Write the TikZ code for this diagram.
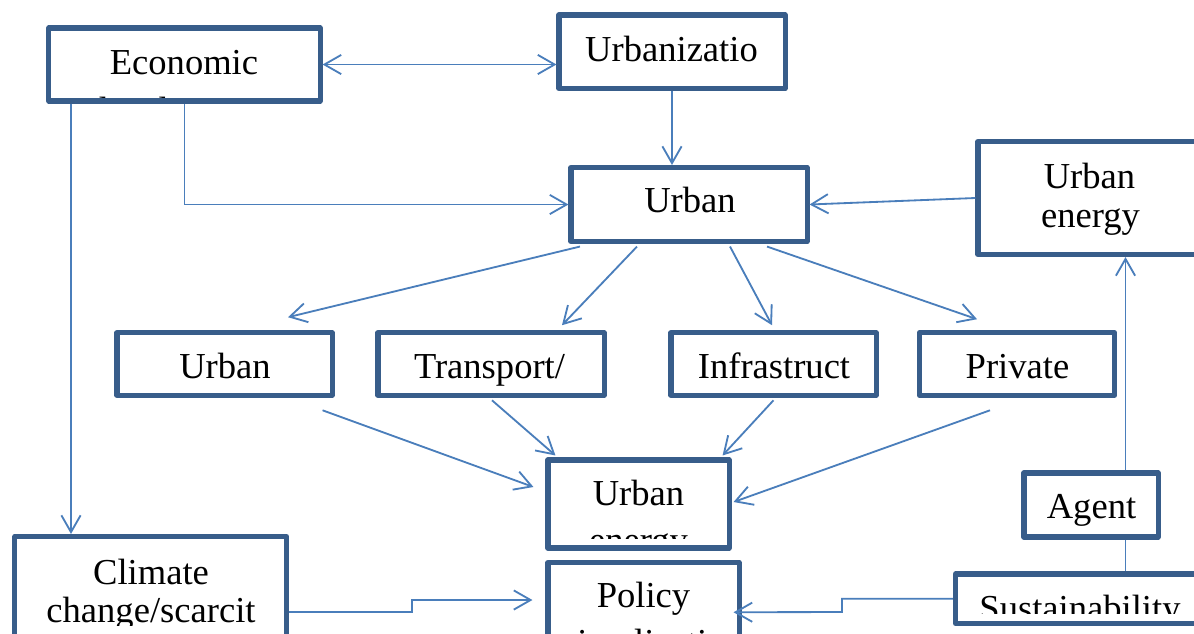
\documentclass[tikz,border=0pt]{standalone}
\usepackage{fontspec}
\setmainfont{Liberation Serif}
\usetikzlibrary{arrows.meta,calc}
\definecolor{boxblue}{RGB}{56,93,138}
\definecolor{lineblue}{RGB}{74,126,187}
\tikzset{
  box/.style={draw=boxblue, line width=3.6pt, line join=round, fill=white, inner sep=0pt},
  link/.style={draw=lineblue, line width=1.3pt},
  txt/.style={anchor=base, inner sep=0pt, font=\fontsize{26}{30}\selectfont},
}

\begin{document}
\begin{tikzpicture}[x=0.025cm, y=-0.025cm, >={Straight Barb[length=0.42cm,width=0.48cm]}]
    \clip (0,0) rectangle (1194,633);
    \fill[white] (0,0) rectangle (1194,633);

    % boxes
    \node[box, minimum width=6.775cm, minimum height=1.825cm]  (econ)   at (184.5,64.5)   {};
    \node[box, minimum width=5.65cm,  minimum height=1.8375cm] (urbz)   at (672,51.75)    {};
    \node[box, minimum width=5.9cm,   minimum height=1.85cm]   (urb)    at (689,204.5)    {};
    \node[box, minimum width=5.6cm,   minimum height=2.825cm]  (uen)    at (1090,198)     {};
    \node[box, minimum width=5.375cm, minimum height=1.5625cm] (uplan)  at (224.5,364)    {};
    \node[box, minimum width=5.65cm,  minimum height=1.5625cm] (transp) at (491,364)      {};
    \node[box, minimum width=5.125cm, minimum height=1.5625cm] (infra)  at (773.5,364)    {};
    \node[box, minimum width=4.8625cm,minimum height=1.5625cm] (priv)   at (1017,364)     {};
    \node[box, minimum width=4.525cm, minimum height=2.2cm]    (ue)     at (638.5,504)    {};
    \node[box, minimum width=4.775cm, minimum height=2.4375cm] (policy) at (643.5,611.25) {};
    \node[box, minimum width=6.7875cm,minimum height=3.0875cm] (clim)   at (150.75,598.25){};
    \node[box, minimum width=3.35cm,  minimum height=1.6cm]    (agent)  at (1091,505)     {};
    \node[box, minimum width=6.225cm, minimum height=1.2375cm] (sust)   at (1080,598.75)  {};

    % texts
    \node[txt] (econ-t) at (184,74) {Economic};
    \begin{scope}
      \clip (52,31) rectangle (317,97);
      \node[txt] (econ-t2) at (184,122) {development};
    \end{scope}
    \node[txt] (urbz-t)   at (671.5,61)  {Urbanizatio};
    \node[txt] (urb-t)    at (690,212)   {Urban};
    \node[txt] (uen-t)    at (1089.5,188) {Urban};
    \node[txt] (uen-t2)   at (1090.5,227) {energy};
    \node[txt] (uplan-t)  at (225,378)   {Urban};
    \node[txt] (transp-t) at (489.5,378) {Transport/};
    \node[txt] (infra-t)  at (774,378)   {Infrastruct};
    \node[txt] (priv-t)   at (1017.5,378) {Private};
    \node[txt] (ue-t)     at (638.5,505) {Urban};
    \begin{scope}
      \clip (551,463) rectangle (726,538);
      \node[txt] (ue-t2) at (638.5,552) {energy};
    \end{scope}
    \node[txt] (policy-t) at (643.5,607) {Policy};
    \node[txt, anchor=base west] (policy-t2) at (577,654) {implications};
    \node[txt] (clim-t)   at (151,584)   {Climate};
    \begin{scope}
      \clip (18,540) rectangle (283,625);
      \node[txt] (clim-t2) at (151,622) {change/scarcit};
    \end{scope}
    \node[txt] (agent-t)  at (1091.5,518) {Agent};
    \begin{scope}
      \clip (959,578) rectangle (1194,613);
      \node[txt] (sust-t) at (1080,620) {Sustainability};
    \end{scope}

    % links
    \draw[link,<->] (econ.east) -- (urbz.west |- econ.east);
    \draw[link,->] (urbz.south) -- (urbz.south |- urb.north);
    \draw[link,->] (econ.south) |- (urb.west);
    \coordinate (econ-l) at ($(econ.south)+(-113.5,0)$);
    \draw[link,->] (econ-l) -- (econ-l |- clim.north);
    \draw[link,->] (uen.west) -- (urb.east);

    \draw[link,->] ($(urb.south)+(-109,2.5)$) -- ($(uplan.north)+(63.5,-13)$);
    \draw[link,->] ($(urb.south)+(-52,2.5)$)  -- ($(transp.north)+(71,-5)$);
    \draw[link,->] ($(urb.south)+(41,2.5)$)   -- ($(infra.north)+(-1.5,-5)$);
    \draw[link,->] ($(urb.south)+(78,2.5)$)   -- ($(priv.north)+(-40,-11)$);

    \draw[link,->] ($(uplan.south east)+(-12,12.5)$) -- ($(ue.west)+(-12,-17)$);
    \draw[link,->] ($(transp.south)+(1,2.5)$)        -- ($(ue.north west)+(10,-2)$);
    \draw[link,->] ($(infra.south)+(0,2.5)$)         -- ($(ue.north east)+(-9,-2)$);
    \draw[link,->] ($(priv.south)+(-27,12.5)$)       -- ($(ue.east)+(2,-2)$);

    \draw[link,->] (clim.east |- 0,612) -| (412,600) -- ($(policy.west |- 0,600)+(-13,0)$);
    \draw[link,->] (sust.west) -| (842,612) -- ($(policy.east)+(-8,1)$);

    \coordinate (agent-r) at ($(agent.north)+(34.5,0)$);
    \draw[link,->] (agent-r) -- (agent-r |- uen.south);
    \coordinate (agent-rb) at ($(agent.south)+(34.5,0)$);
    \draw[link] (agent-rb) -- (agent-rb |- sust.north);
\end{tikzpicture}
\end{document}
